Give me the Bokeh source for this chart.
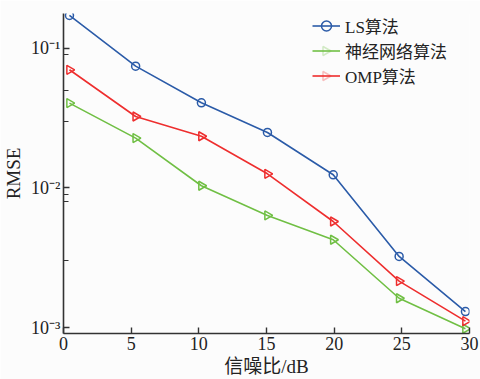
import math
from bokeh.plotting import figure
from bokeh.models import (FixedTicker, CustomJSTickFormatter, Range1d, Legend,
                          LegendItem, PolyAnnotation, Title)
from bokeh.embed import file_html
from bokeh.resources import INLINE

snr = [0.44, 5.33, 10.19, 15.07, 19.93, 24.8, 29.7]
rmse_ls = [0.1714, 0.0743, 0.0406, 0.0249, 0.0124, 0.00323, 0.00130]
rmse_nn = [0.0404, 0.0227, 0.01035, 0.00634, 0.00425, 0.00162, 0.00098]
rmse_omp = [0.0700, 0.0324, 0.0234, 0.0126, 0.00574, 0.00215, 0.00111]
x_ticks = [0, 5, 10, 15, 20, 25, 30]
y_ticks = [1e-3, 1e-2, 1e-1]
y_minor = [0.09, 0.05, 0.03, 0.009, 0.008, 0.003]
names = ["LS算法", "神经网络算法", "OMP算法"]
colors = ["#2b5ba8", "#70bf44", "#ee2e2e"]
x_title = "信噪比/dB"
y_title = "RMSE"

FONT = "Liberation Serif, Noto Sans CJK SC"
W, H = 480, 379
BL, BR, BT, BB = 62, 11, 13, 46
FW = W - BL - BR

p = figure(width=W, height=H, y_axis_type="log",
           x_range=Range1d(0, 30), y_range=Range1d(9.06e-4, 0.177),
           output_backend="svg", toolbar_location=None,
           min_border_left=BL, min_border_right=BR, min_border_top=BT,
           min_border_bottom=BB)
p.background_fill_color = "#fcfcfc"
p.border_fill_color = "#fcfcfc"
p.outline_line_color = None
p.grid.visible = False

items = []
series = [rmse_ls, rmse_nn, rmse_omp]
for i, (name, ys, c) in enumerate(zip(names, series, colors)):
    r1 = p.line(snr, ys, line_color=c, line_width=1.6)
    if i == 0:
        r2 = p.scatter(snr, ys, marker="circle", size=8, fill_color=None,
                       line_color=c, line_width=1.5)
        items.append(LegendItem(label=name, renderers=[r1, r2]))
    else:
        p.scatter(snr, ys, marker="triangle", size=9, angle=-math.pi / 2,
                  fill_color=None, line_color=c, line_width=1.5)
        items.append(LegendItem(label=name, renderers=[r1]))

# axes
xa = p.xaxis[0]
xa.ticker = FixedTicker(ticks=x_ticks, minor_ticks=[])
ya = p.yaxis[0]
ya.ticker = FixedTicker(ticks=y_ticks, minor_ticks=y_minor)
ya.formatter = CustomJSTickFormatter(code="""
const e = Math.round(Math.log10(tick));
const sup = {'-':'\u207b','0':'\u2070','1':'\u00b9','2':'\u00b2','3':'\u00b3'};
return '10' + String(e).split('').map(c => sup[c]).join('');
""")
ya.axis_label = y_title

for ax in (xa, ya):
    ax.axis_line_color = "#333333"
    ax.axis_line_width = 1.6
    ax.major_tick_line_color = "#333333"
    ax.minor_tick_line_color = "#333333"
    ax.major_tick_line_width = 1.4
    ax.minor_tick_line_width = 1.2
    ax.major_tick_in = 6
    ax.major_tick_out = 0
    ax.minor_tick_in = 5
    ax.minor_tick_out = 0
    ax.major_label_text_font = FONT
    ax.major_label_text_font_size = "18px"
    ax.major_label_text_color = "#222222"
    ax.axis_label_text_font = FONT
    ax.axis_label_text_font_size = "19px"
    ax.axis_label_text_font_style = "normal"
    ax.axis_label_text_color = "#222222"
    ax.major_label_standoff = 3
ya.axis_label_standoff = 4

# x-axis title as a title below the axis
p.add_layout(Title(text=x_title, align="center", text_font=FONT,
                   text_font_size="19px", text_font_style="normal",
                   text_color="#222222", standoff=3, offset=0), "below")

# legend in the top-right corner of the frame
ROW_H = 25
GLYPH_W = 28
LEG_LEFT = 250
legend = Legend(items=items, location="top_right")
legend.label_text_font = FONT
legend.label_text_font_size = "17px"
legend.label_text_color = "#222222"
legend.glyph_width = GLYPH_W
legend.glyph_height = ROW_H
legend.label_height = ROW_H
legend.label_standoff = 5
legend.label_width = FW - LEG_LEFT - GLYPH_W - 5
legend.spacing = 0
legend.padding = 0
legend.margin = 0
legend.border_line_color = None
legend.background_fill_alpha = 0
p.add_layout(legend)

# right-pointing open triangles for the legend rows of the triangle series
cx = BL + LEG_LEFT + GLYPH_W / 2
for i in (1, 2):
    cy = BT + ROW_H / 2 + ROW_H * i
    tri = PolyAnnotation(xs=[cx - 3.5, cx - 3.5, cx + 4.5],
                         ys=[cy - 4.5, cy + 4.5, cy],
                         xs_units="canvas", ys_units="canvas",
                         fill_alpha=0, line_color=colors[i], line_width=1.5,
                         level="overlay")
    p.add_layout(tri)

open("out.html", "w").write(file_html(p, INLINE))
